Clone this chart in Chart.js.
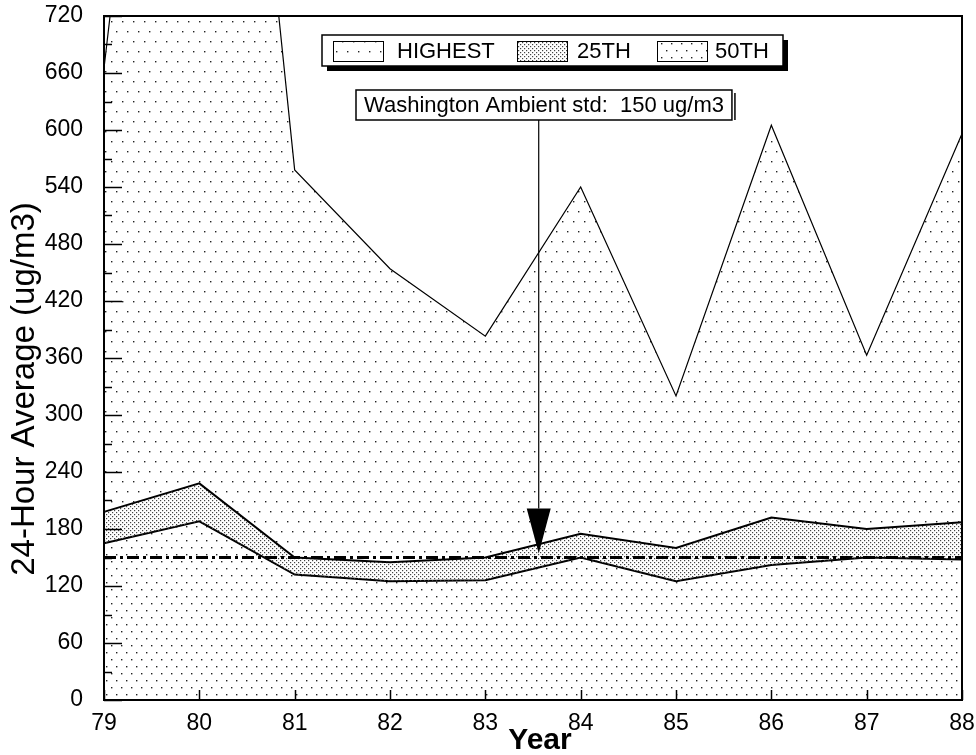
<!DOCTYPE html>
<html>
<head>
<meta charset="utf-8">
<script src="https://cdn.jsdelivr.net/npm/chart.js@4.4.1/dist/chart.umd.min.js"></script>
<style>
  html, body { margin: 0; padding: 0; background: #fff; }
  #wrap { width: 976px; height: 755px; }
</style>
</head>
<body>
<div id="wrap"><canvas id="chart" width="976" height="755"></canvas></div>
<script>
// Yearly 24-hour average concentrations (ug/m3)
const years    = ['79', '80', '81', '82', '83', '84', '85', '86', '87', '88'];
const highest  = [665, 1530, 558, 454, 383, 540, 320, 605, 363, 596];
const pct25    = [198, 228, 150, 145, 150, 175, 160, 192, 180, 187];
const pct50    = [165, 188, 132, 125, 126, 150, 125, 142, 150, 148];
const seriesNames = ['HIGHEST', '25TH', '50TH'];

// Y axis range and tick spacing
const yMin = 0;
const yMax = 720;
const yStep = 60;
const yMinorStep = 30;

// Ambient standard and its callout
const STANDARD = 150;
const STANDARD_LABEL = 'Washington Ambient std:  150 ug/m3';
const ARROW_YEAR = 83.56;

const yTitle = '24-Hour Average (ug/m3)';
const xTitle = 'Year';

const FONT = '"Liberation Sans", Arial, Helvetica, sans-serif';

// Dot-screen fill patterns
function dotPattern(w, h, dots, color, size) {
  const c = document.createElement('canvas');
  c.width = w; c.height = h;
  const g = c.getContext('2d');
  g.fillStyle = color;
  dots.forEach(([x, y]) => g.fillRect(x, y, size, size));
  return document.createElement('canvas').getContext('2d').createPattern(c, 'repeat');
}
const patHighest = dotPattern(11, 20, [[1, 1], [6, 11]], '#222', 1.4);
const pat25 = dotPattern(4, 4, [[0, 0], [2, 2]], '#444', 1.2);
const pat50 = dotPattern(10, 14, [[1, 1], [6, 8]], '#222', 1.4);
const patterns = [patHighest, pat25, pat50];

const decorations = {
  id: 'decorations',
  afterDatasetsDraw(chart) {
    const { ctx, chartArea: a, scales: { y } } = chart;
    ctx.save();
    // dash-dot standard line
    const ys = y.getPixelForValue(STANDARD);
    ctx.strokeStyle = '#000';
    ctx.lineWidth = 3;
    ctx.setLineDash([12, 4, 3, 4]);
    ctx.beginPath();
    ctx.moveTo(a.left, ys);
    ctx.lineTo(a.right, ys);
    ctx.stroke();
    ctx.setLineDash([]);
    ctx.restore();
  },
  afterDraw(chart) {
    const { ctx, chartArea: a, scales: { x, y } } = chart;
    ctx.save();

    // plot frame
    ctx.strokeStyle = '#000';
    ctx.lineWidth = 2;
    ctx.strokeRect(a.left, a.top, a.right - a.left, a.bottom - a.top);

    // inward ticks on the value axis
    ctx.lineWidth = 1.5;
    for (let v = yMin; v <= yMax; v += yMinorStep) {
      const py = Math.round(y.getPixelForValue(v)) + 0.5;
      const len = (v % yStep === 0) ? 18 : 8;
      ctx.beginPath();
      ctx.moveTo(a.left, py);
      ctx.lineTo(a.left + len, py);
      ctx.stroke();
    }
    // inward ticks on the year axis
    years.forEach((_, i) => {
      const px = Math.round(x.getPixelForValue(i)) + 0.5;
      ctx.beginPath();
      ctx.moveTo(px, a.bottom);
      ctx.lineTo(px, a.bottom - 10);
      ctx.stroke();
    });

    // callout box
    ctx.font = '22px ' + FONT;
    ctx.textBaseline = 'middle';
    ctx.textAlign = 'left';
    const bx = 356, by = 90, bh = 30;
    const bw = ctx.measureText(STANDARD_LABEL).width + 16;
    ctx.fillStyle = '#fff';
    ctx.fillRect(bx, by, bw, bh);
    ctx.lineWidth = 1.5;
    ctx.strokeStyle = '#000';
    ctx.strokeRect(bx, by, bw, bh);
    ctx.beginPath();
    ctx.moveTo(bx + bw + 3, by + 3);
    ctx.lineTo(bx + bw + 3, by + bh);
    ctx.stroke();
    ctx.fillStyle = '#000';
    ctx.fillText(STANDARD_LABEL, bx + 8, by + bh / 2 + 1);

    // arrow down to the standard line
    const ax = x.getPixelForValue(ARROW_YEAR - Number(years[0]));
    const tipY = y.getPixelForValue(STANDARD) - 4;
    const headTop = tipY - 45;
    ctx.lineWidth = 1.2;
    ctx.beginPath();
    ctx.moveTo(ax, by + bh);
    ctx.lineTo(ax, headTop);
    ctx.stroke();
    ctx.beginPath();
    ctx.moveTo(ax - 12, headTop);
    ctx.lineTo(ax + 12, headTop);
    ctx.lineTo(ax, tipY);
    ctx.closePath();
    ctx.fill();

    // legend with shadowed frame
    const lx = 322, ly = 35, lw = 461, lh = 31;
    ctx.fillStyle = '#000';
    ctx.fillRect(lx + 5, ly + 5, lw, lh);
    ctx.fillStyle = '#fff';
    ctx.fillRect(lx, ly, lw, lh);
    ctx.lineWidth = 1.5;
    ctx.strokeRect(lx, ly, lw, lh);
    const swatchX = [333, 517, 657];
    const textX = [397, 577, 715];
    ctx.font = '22px ' + FONT;
    seriesNames.forEach((name, i) => {
      ctx.fillStyle = '#fff';
      ctx.fillRect(swatchX[i], ly + 6, 50, 20);
      ctx.fillStyle = patterns[i];
      ctx.fillRect(swatchX[i], ly + 6, 50, 20);
      ctx.lineWidth = 1;
      ctx.strokeStyle = '#000';
      ctx.strokeRect(swatchX[i] + 0.5, ly + 6.5, 50, 20);
      ctx.fillStyle = '#000';
      ctx.fillText(name, textX[i], ly + 17);
    });

    // axis titles
    ctx.fillStyle = '#000';
    ctx.textAlign = 'center';
    ctx.textBaseline = 'middle';
    ctx.font = 'bold 30px ' + FONT;
    ctx.fillText(xTitle, 540, 741);
    ctx.save();
    ctx.translate(25, 389);
    ctx.rotate(-Math.PI / 2);
    ctx.font = '33px ' + FONT;
    ctx.fillText(yTitle, 0, 0);
    ctx.restore();

    ctx.restore();
  }
};

new Chart(document.getElementById('chart'), {
  type: 'line',
  data: {
    labels: years,
    datasets: [
      { label: seriesNames[0], data: highest, borderColor: '#000', borderWidth: 1.2,
        backgroundColor: patHighest, fill: '+1', pointRadius: 0, tension: 0 },
      { label: seriesNames[1], data: pct25, borderColor: '#000', borderWidth: 2,
        backgroundColor: pat25, fill: '+1', pointRadius: 0, tension: 0 },
      { label: seriesNames[2], data: pct50, borderColor: '#000', borderWidth: 2,
        backgroundColor: pat50, fill: 'origin', pointRadius: 0, tension: 0 }
    ]
  },
  options: {
    responsive: false,
    devicePixelRatio: 1,
    animation: false,
    layout: { padding: { top: 16, right: 14, left: 0, bottom: 0 } },
    plugins: { legend: { display: false }, tooltip: { enabled: false } },
    scales: {
      x: {
        type: 'category',
        offset: false,
        grid: { display: false, drawTicks: false },
        border: { display: false },
        ticks: { color: '#000', font: { family: FONT, size: 23 }, padding: 10, maxRotation: 0, autoSkip: false },
        afterFit(s) { s.height = 55; s.paddingLeft = 0; s.paddingRight = 0; }
      },
      y: {
        min: yMin, max: yMax,
        grid: { display: false, drawTicks: false },
        border: { display: false },
        ticks: { stepSize: yStep, color: '#000', font: { family: FONT, size: 23 }, padding: 21 },
        afterFit(s) { s.width = 104; s.paddingTop = 0; s.paddingBottom = 0; }
      }
    }
  },
  plugins: [decorations]
});
</script>
</body>
</html>
